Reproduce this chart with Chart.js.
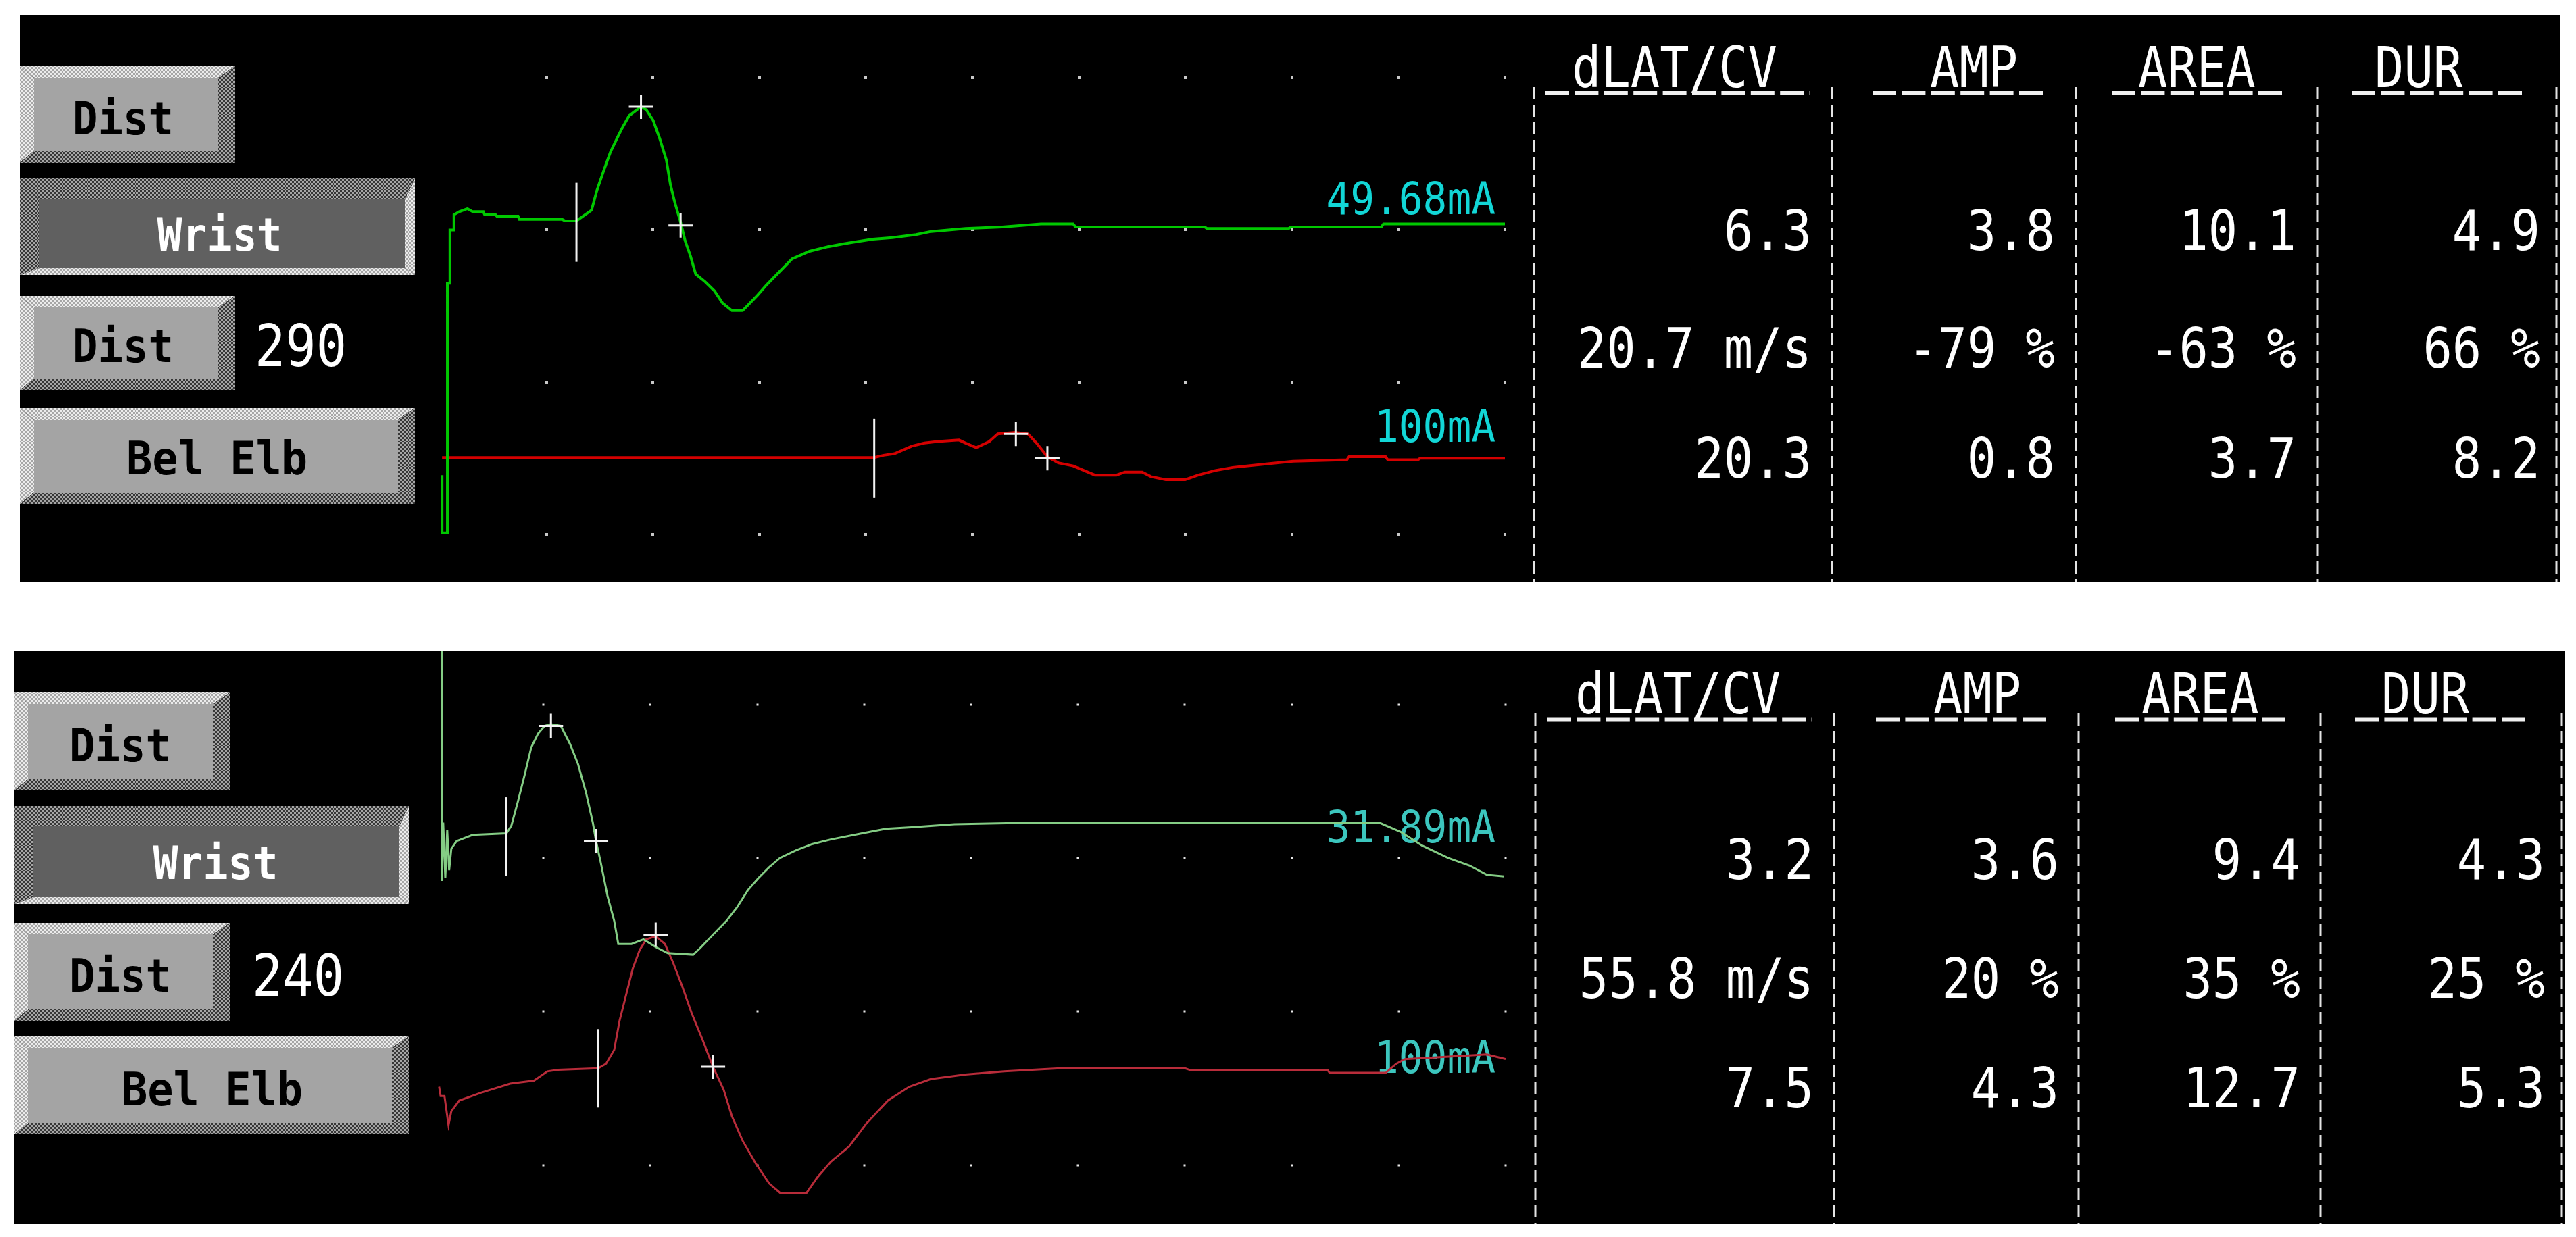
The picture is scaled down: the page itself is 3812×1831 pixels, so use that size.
<!DOCTYPE html>
<html>
<head>
<meta charset="utf-8">
<script src="https://cdn.jsdelivr.net/npm/chart.js@4.4.1/dist/chart.umd.min.js"></script>
<style>
  html, body { margin: 0; padding: 0; background: #fff; }
  body { width: 3812px; height: 1831px; position: relative; overflow: hidden; }
  #deco { position: absolute; left: 0; top: 0; }
  canvas { position: absolute; }
</style>
</head>
<body>
<svg id="deco" width="3812" height="1831"></svg>
<canvas id="topTrace"></canvas>
<canvas id="botTrace"></canvas>
<script>
const siteNames = ['Dist', 'Wrist', 'Dist', 'Bel Elb'];
const distances = ['290', '240'];
const stimTop = ['49.68mA', '100mA'];
const stimBot = ['31.89mA', '100mA'];
const colHeads = ['dLAT/CV', 'AMP', 'AREA', 'DUR'];
const topRows = [['6.3', '3.8', '10.1', '4.9'], ['20.7 m/s', '-79 %', '-63 %', '66 %'], ['20.3', '0.8', '3.7', '8.2']];
const botRows = [['3.2', '3.6', '9.4', '4.3'], ['55.8 m/s', '20 %', '35 %', '25 %'], ['7.5', '4.3', '12.7', '5.3']];

// traces: time in ms (5 ms per division), amplitude in screen divisions
const topWristMs = [0.10,0.10,0.35,0.35,0.47,0.47,0.66,0.66,0.91,1.29,1.54,2.04,2.10,2.61,2.67,3.67,3.73,5.74,5.87,6.41,7.12,7.37,7.69,8.00,8.31,8.56,8.88,9.44,9.69,10.01,10.32,10.63,10.82,11.01,11.30,11.51,11.76,12.01,12.45,12.89,13.27,13.71,14.21,14.90,15.34,15.97,16.53,17.35,18.22,18.98,19.41,20.33,21.24,22.35,23.06,24.68,26.40,28.22,29.73,29.84,35.90,36.01,39.85,39.95,44.20,44.30,50.0];
const topWristAmp = [0.39,0.01,0.01,1.65,1.65,2.00,2.00,2.10,2.12,2.14,2.12,2.12,2.10,2.10,2.09,2.09,2.07,2.07,2.06,2.06,2.13,2.26,2.39,2.51,2.60,2.67,2.75,2.81,2.79,2.72,2.60,2.46,2.30,2.19,2.05,1.93,1.83,1.71,1.66,1.60,1.52,1.47,1.47,1.57,1.64,1.73,1.81,1.86,1.89,1.91,1.92,1.94,1.95,1.97,1.99,2.01,2.02,2.04,2.04,2.02,2.02,2.01,2.01,2.02,2.02,2.04,2.04];
const topElbMs = [0.10,20.39,20.83,21.34,22.15,22.75,23.36,24.37,24.68,25.18,25.79,26.19,27.00,27.61,28.01,28.52,29.03,29.73,30.75,31.76,32.16,32.97,33.38,34.08,34.99,35.60,36.41,37.22,38.64,40.05,42.58,42.68,44.40,44.50,45.92,46.02,50.0];
const topElbAmp = [0.505,0.505,0.52,0.53,0.58,0.60,0.61,0.62,0.60,0.57,0.61,0.66,0.67,0.66,0.60,0.51,0.47,0.45,0.39,0.39,0.41,0.41,0.38,0.36,0.36,0.39,0.42,0.44,0.46,0.48,0.49,0.51,0.51,0.49,0.49,0.50,0.50];
const topOnsetMs = [6.41, 20.39];
const topOnsetAmp = [2.05, 0.50];
const topPeakMs = [9.44, 11.30, 27.04, 28.52];
const topPeakAmp = [2.81, 2.03, 0.66, 0.50];

const botWristMs = [0.25,0.25,0.31,0.41,0.50,0.59,0.69,0.94,1.69,3.27,3.50,3.81,4.12,4.43,4.75,5.06,5.35,5.81,6.25,6.62,7.00,7.31,7.46,7.68,8.00,8.31,8.50,9.12,9.68,10.25,10.81,12.00,12.31,12.93,13.56,14.06,14.56,15.06,15.56,16.06,16.81,17.56,18.43,19.90,21.01,22.21,24.23,28.26,44.08,45.09,46.10,47.31,48.32,49.12,49.93];
const botWristAmp = [3.40,1.85,2.23,1.87,2.18,1.92,2.06,2.11,2.15,2.16,2.21,2.37,2.54,2.72,2.81,2.86,2.87,2.86,2.74,2.61,2.42,2.23,2.11,1.97,1.75,1.59,1.44,1.44,1.47,1.42,1.38,1.37,1.41,1.50,1.59,1.68,1.79,1.87,1.94,2.00,2.05,2.09,2.12,2.16,2.19,2.20,2.22,2.23,2.23,2.17,2.08,2.00,1.95,1.89,1.88];
const botElbMs = [0.12,0.19,0.37,0.56,0.69,1.06,2.06,3.44,4.56,5.18,5.68,7.56,7.93,8.31,8.56,8.87,9.18,9.50,9.81,10.25,10.68,11.06,11.50,11.93,12.43,12.93,13.43,13.81,14.31,14.93,15.56,16.06,17.31,17.81,18.43,19.29,20.10,21.11,22.11,23.12,24.73,26.55,29.17,35.01,35.22,41.67,41.77,44.39,44.89,45.29,49.12,50.0];
const botElbAmp = [0.51,0.45,0.45,0.26,0.35,0.42,0.47,0.53,0.55,0.61,0.62,0.63,0.66,0.75,0.94,1.11,1.28,1.40,1.47,1.49,1.44,1.32,1.16,0.99,0.82,0.64,0.49,0.32,0.16,0.01,-0.12,-0.18,-0.18,-0.08,0.02,0.12,0.27,0.42,0.51,0.56,0.59,0.61,0.63,0.63,0.62,0.62,0.60,0.60,0.66,0.69,0.72,0.69];
const botOnsetMs = [3.27, 7.56];
const botOnsetAmp = [2.14, 0.63];
const botPeakMs = [5.35, 7.46, 10.25, 12.93];
const botPeakAmp = [2.86, 2.11, 1.50, 0.64];

// ---- screen layout (page pixels) ----
const screens = [
  { canvas: 'topTrace', box: [29, 22, 3788, 861], left: 651, pxMs: 31.52, zeroY: 791, pxDiv: 225.3,
    lineW: 4, green: '#00c800', red: '#d40000', dot: '#c8c8c8', dotSize: 4, onsetR: 58.5,
    wrist: [topWristMs, topWristAmp], elb: [topElbMs, topElbAmp], onset: [topOnsetMs, topOnsetAmp], peaks: [topPeakMs, topPeakAmp],
    buttons: [[29, 98, 348, 241], [29, 264, 614, 407], [29, 438, 348, 578], [29, 604, 614, 746]],
    btnText: [[182, 199, 150], [325, 371, 185], [182, 536, 150], [321, 702, 268]],
    dist: distances[0], distPos: [377, 542], stim: stimTop, stimBase: [317, 654], cyan: '#12d6d6',
    headX: [2326, 2856, 3164, 3514], headBase: 129, underY: 137.5,
    underSpans: [[2287, 2678], [2771, 3028], [3125, 3382], [3480, 3737]],
    rows: topRows, rowBase: [370, 544, 707], colRight: [2681, 3041, 3398, 3759],
    vlines: [2270, 2711, 3072, 3429, 3783], vTop: 129 },
  { canvas: 'botTrace', box: [21, 963, 3796, 1812], left: 646, pxMs: 31.64, zeroY: 1724.5, pxDiv: 227.3,
    lineW: 3, green: '#84cc84', red: '#b82c3a', dot: '#e8e8e8', dotSize: 3, onsetR: 58,
    wrist: [botWristMs, botWristAmp], elb: [botElbMs, botElbAmp], onset: [botOnsetMs, botOnsetAmp], peaks: [botPeakMs, botPeakAmp],
    buttons: [[21, 1025, 340, 1170], [21, 1193, 605, 1338], [21, 1366, 340, 1511], [21, 1534, 605, 1679]],
    btnText: [[178, 1127, 150], [319, 1301, 185], [178, 1468, 150], [314, 1636, 268]],
    dist: distances[1], distPos: [373, 1474], stim: stimBot, stimBase: [1247, 1588], cyan: '#3cc6be',
    headX: [2331, 2861, 3169, 3524], headBase: 1056, underY: 1065,
    underSpans: [[2290, 2681], [2776, 3035], [3130, 3390], [3485, 3742]],
    rows: botRows, rowBase: [1301, 1477, 1639], colRight: [2684, 3047, 3404, 3766],
    vlines: [2272, 2714, 3076, 3434, 3791], vTop: 1056 }
];

const CELL = 43.4; // monospace cell of the table font
const NS = 'http://www.w3.org/2000/svg';
const svg = document.getElementById('deco');

function mk(tag, attrs, parent) {
  const e = document.createElementNS(NS, tag);
  for (const k in attrs) e.setAttribute(k, attrs[k]);
  (parent || svg).appendChild(e);
  return e;
}

function txt(str, x, y, size, fill, anchor, len, weight) {
  const t = mk('text', { x: x, y: y, 'font-family': 'DejaVu Sans Mono, monospace', 'font-size': size, fill: fill,
    'text-anchor': anchor, textLength: len, lengthAdjust: 'spacingAndGlyphs', 'font-weight': weight || 'normal' });
  t.textContent = str;
  return t;
}

const defs = mk('defs', {});
function checker(id, a, b) {
  const p = mk('pattern', { id: id, width: 2, height: 2, patternUnits: 'userSpaceOnUse' }, defs);
  mk('rect', { width: 2, height: 2, fill: a }, p);
  mk('rect', { x: 0, y: 0, width: 1, height: 1, fill: b }, p);
  mk('rect', { x: 1, y: 1, width: 1, height: 1, fill: b }, p);
}
checker('lite', '#a6a6a6', '#ececec');
checker('dark', '#a6a6a6', '#363636');

function button(bx, pressed) {
  const [x1, y1, x2, y2] = bx;
  const t = pressed ? 30 : 17, b = pressed ? 10 : 17, l = pressed ? 28 : 21, r = pressed ? 14 : 25;
  const tl = pressed ? 'url(#dark)' : 'url(#lite)', br = pressed ? 'url(#lite)' : 'url(#dark)';
  const poly = (pts, fill) => mk('polygon', { points: pts.map(p => p.join(',')).join(' '), fill: fill });
  mk('rect', { x: x1 + l, y: y1 + t, width: x2 - x1 - l - r, height: y2 - y1 - t - b, fill: pressed ? '#606060' : '#a4a4a4' });
  poly([[x1, y1], [x2, y1], [x2 - r, y1 + t], [x1 + l, y1 + t]], tl);
  poly([[x1, y1], [x1 + l, y1 + t], [x1 + l, y2 - b], [x1, y2]], tl);
  poly([[x1, y2], [x1 + l, y2 - b], [x2 - r, y2 - b], [x2, y2]], br);
  poly([[x2, y1], [x2, y2], [x2 - r, y2 - b], [x2 - r, y1 + t]], br);
}

function drawScreen(s) {
  const [x1, y1, x2, y2] = s.box;
  mk('rect', { x: x1, y: y1, width: x2 - x1, height: y2 - y1, fill: '#000' });

  s.buttons.forEach((bx, i) => {
    const pressed = siteNames[i] === 'Wrist';
    button(bx, pressed);
    const [cx, by, len] = s.btnText[i];
    txt(siteNames[i], cx, by, 68, pressed ? '#fff' : '#000', 'middle', len, 'bold');
  });
  txt(s.dist, s.distPos[0], s.distPos[1], 85, '#fff', 'start', 136);

  s.stim.forEach((lab, i) => txt(lab, 2213, s.stimBase[i], 66, s.cyan, 'end', lab.length * 35.8));

  // table
  s.vlines.forEach(x => mk('line', { x1: x, y1: s.vTop, x2: x, y2: y2, stroke: '#e4e4e4', 'stroke-width': 3, 'stroke-dasharray': '18 8' }));
  colHeads.forEach((h, i) => txt(h, s.headX[i], s.headBase, 84, '#fff', 'start', h.length * CELL));
  s.underSpans.forEach(sp => mk('line', { x1: sp[0], y1: s.underY, x2: sp[1], y2: s.underY, stroke: '#f0f0f0', 'stroke-width': 5, 'stroke-dasharray': '35 8.4' }));
  s.rows.forEach((row, r) => row.forEach((v, c) => txt(v, s.colRight[c], s.rowBase[r], 82, '#fff', 'end', v.length * CELL)));
}

const dotGrid = {
  id: 'dotGrid',
  beforeDatasetsDraw(chart, args, opts) {
    const { ctx, scales: { x, y } } = chart;
    ctx.save();
    ctx.fillStyle = opts.color;
    for (let t = 5; t <= 50; t += 5) {
      for (let r = 0; r <= 3; r++) {
        const px = Math.round(x.getPixelForValue(t)), py = Math.round(y.getPixelForValue(r));
        ctx.fillRect(px - opts.size / 2, py - opts.size / 2, opts.size, opts.size);
      }
    }
    ctx.restore();
  }
};

function zip(xs, ys) { return xs.map((v, i) => ({ x: v, y: ys[i] })); }

function drawTraces(s) {
  const cv = document.getElementById(s.canvas);
  const pad = 8;
  const w = Math.round(50 * s.pxMs) + pad, h = s.box[3] - s.box[1];
  cv.width = w; cv.height = h;
  cv.style.left = s.left + 'px'; cv.style.top = s.box[1] + 'px';
  cv.style.width = w + 'px'; cv.style.height = h + 'px';
  const yMax = (s.zeroY - s.box[1]) / s.pxDiv, yMin = (s.zeroY - s.box[3]) / s.pxDiv;

  new Chart(cv, {
    type: 'line',
    data: {
      datasets: [
        { data: zip(s.onset[0], s.onset[1]), showLine: false, pointStyle: 'line', pointRotation: 90,
          pointRadius: s.onsetR, pointBorderWidth: 3, pointBorderColor: '#f2f2f2', clip: false },
        { data: zip(s.peaks[0], s.peaks[1]), showLine: false, pointStyle: 'cross',
          pointRadius: 18, pointBorderWidth: 3, pointBorderColor: '#f2f2f2', clip: false },
        { data: zip(s.wrist[0], s.wrist[1]), borderColor: s.green, borderWidth: s.lineW, pointRadius: 0, tension: 0 },
        { data: zip(s.elb[0], s.elb[1]), borderColor: s.red, borderWidth: s.lineW, pointRadius: 0, tension: 0 }
      ]
    },
    options: {
      responsive: false,
      maintainAspectRatio: false,
      animation: false,
      events: [],
      layout: { autoPadding: false, padding: { left: 0, right: pad, top: 0, bottom: 0 } },
      scales: {
        x: { type: 'linear', min: 0, max: 50, display: false },
        y: { type: 'linear', min: yMin, max: yMax, display: false }
      },
      plugins: { legend: { display: false }, tooltip: { enabled: false }, dotGrid: { color: s.dot, size: s.dotSize } }
    },
    plugins: [dotGrid]
  });
}

screens.forEach(drawScreen);
screens.forEach(drawTraces);
</script>
</body>
</html>
